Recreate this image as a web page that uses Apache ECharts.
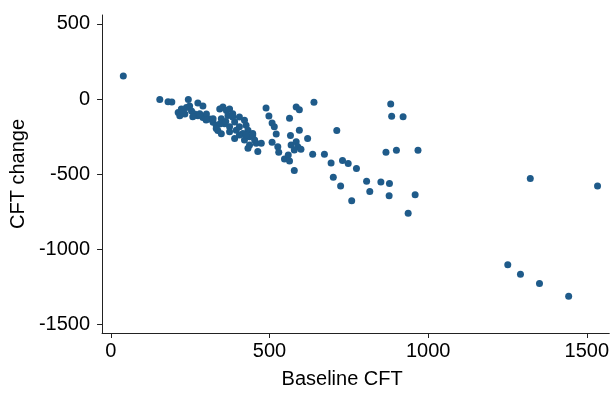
<!DOCTYPE html>
<html>
<head>
<meta charset="utf-8">
<script src="https://cdn.jsdelivr.net/npm/echarts@6/dist/echarts.min.js"></script>
<style>
  html, body { margin: 0; padding: 0; background: #fff; }
  #chart { width: 612px; height: 394px; }
</style>
</head>
<body>
<div id="chart"></div>
<script>
// baseline CFT (x) and CFT change (y)
const baselineCFT = [
  39, 154, 180, 192, 244, 274, 290, 212, 222, 238,
  248, 217, 233, 254, 264, 274, 290, 301, 311, 322,
  332, 337, 348, 343, 343, 353, 364, 374, 369, 384,
  348, 358, 374, 390, 395, 405, 421, 426, 432, 416,
  437, 447, 453, 437, 458, 474, 463, 489, 498, 508,
  515, 521, 508, 526, 529, 547, 559, 563, 578, 563,
  584, 594, 566, 594, 568, 584, 589, 599, 578, 620,
  640, 636, 673, 694, 712, 730, 748, 774, 701, 724,
  759, 806, 816, 851, 878, 877, 959, 937, 867, 900,
  968, 882, 885, 921, 1322, 1534, 1251, 1291, 1351, 1443,
  280, 322, 384, 405, 332, 374, 390, 405, 421, 432,
  447, 426, 226, 258, 300, 362
];
const cftChange = [
  153, -3, -18, -20, -3, -26, -46, -90, -67, -57,
  -46, -111, -100, -79, -100, -111, -123, -100, -133, -155,
  -177, -210, -231, -166, -66, -54, -77, -66, -109, -98,
  -131, -164, -185, -153, -208, -185, -142, -175, -208, -229,
  -251, -229, -273, -306, -295, -295, -349, -59, -113, -159,
  -185, -233, -288, -317, -354, -400, -373, -413, -476, -128,
  -54, -72, -242, -208, -306, -284, -317, -334, -339, -262,
  -22, -367, -367, -426, -210, -410, -429, -463, -521, -579,
  -677, -548, -616, -552, -562, -644, -637, -760, -355, -341,
  -341, -33, -115, -118, -529, -579, -1103, -1166, -1227, -1313,
  -98, -131, -120, -120, -197, -218, -262, -240, -273, -328,
  -240, -240, -85, -118, -140, -150
];
const xTicks = [0, 500, 1000, 1500];
const yTicks = [-1500, -1000, -500, 0, 500];

const points = baselineCFT.map((x, i) => [x, cftChange[i]]);

const chart = echarts.init(document.getElementById('chart'), null, { renderer: 'canvas' });

const axisText = {
  color: '#000',
  fontFamily: 'Liberation Sans',
  fontSize: 20,
  formatter: (v) => String(v)
};

chart.setOption({
  animation: false,
  backgroundColor: '#fff',
  grid: { left: 102, right: 1, top: 15, bottom: 56, containLabel: false },
  xAxis: {
    type: 'value',
    min: -28,
    max: 1571,
    name: 'Baseline CFT',
    nameLocation: 'middle',
    nameGap: 36,
    nameTextStyle: { color: '#000', fontFamily: 'Liberation Sans', fontSize: 20, padding: [0, 27, 0, 0] },
    axisLine: { onZero: false, lineStyle: { color: '#222', width: 1 } },
    axisTick: { show: true, length: 5, customValues: xTicks, lineStyle: { color: '#222' } },
    axisLabel: { ...axisText, margin: 8, customValues: xTicks },
    splitLine: { show: false }
  },
  yAxis: {
    type: 'value',
    min: -1557,
    max: 559,
    name: 'CFT change',
    nameLocation: 'middle',
    nameGap: 70,
    nameRotate: 90,
    nameTextStyle: { color: '#000', fontFamily: 'Liberation Sans', fontSize: 20 },
    axisLine: { show: true, onZero: false, lineStyle: { color: '#222', width: 1 } },
    axisTick: { show: true, length: 5, customValues: yTicks, lineStyle: { color: '#222' } },
    axisLabel: { ...axisText, margin: 12, customValues: yTicks },
    splitLine: { show: false }
  },
  series: [{
    type: 'scatter',
    data: points,
    symbolSize: 7,
    itemStyle: { color: '#1f5b8a', opacity: 1 }
  }]
});
</script>
</body>
</html>
